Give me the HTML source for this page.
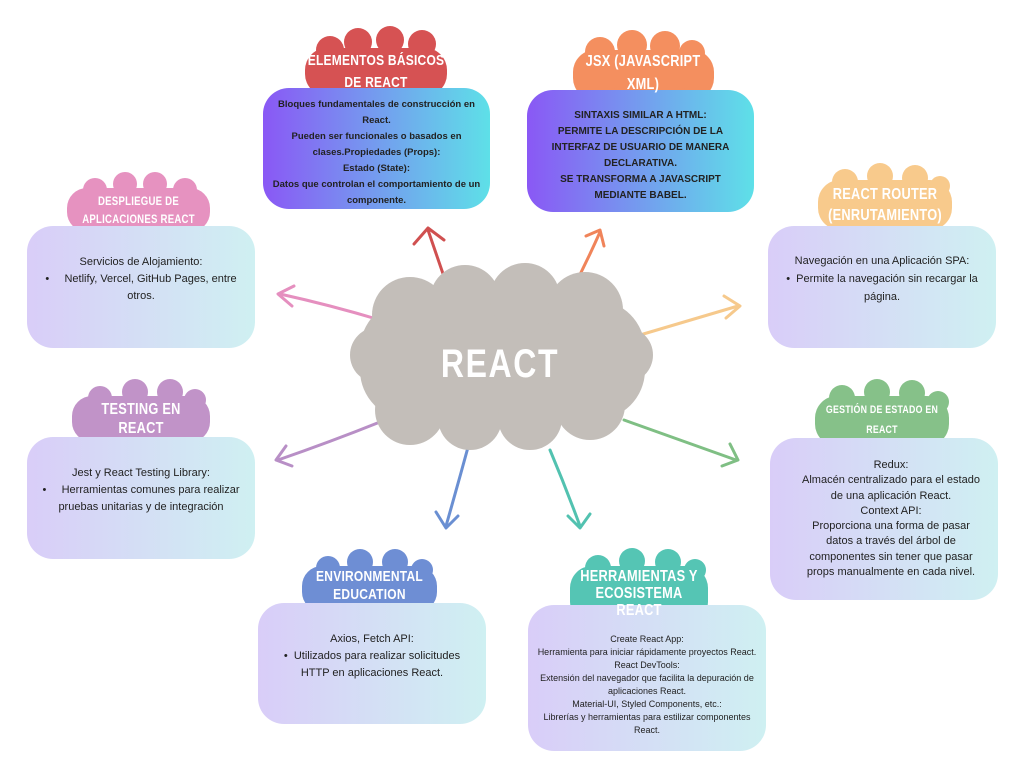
<!DOCTYPE html>
<html><head><meta charset="utf-8"><style>
body{margin:0;width:1024px;height:768px;background:#fff;position:relative;overflow:hidden;font-family:"Liberation Sans",sans-serif}
.box{position:absolute;border-radius:26px;color:#222;text-align:center;box-sizing:border-box}
.g1{background:linear-gradient(90deg,#8a58f5,#5ee0e8)}
.g2{background:linear-gradient(90deg,#d9cdf8,#cff0f2)}
.t{position:absolute;color:#fff;font-weight:bold;text-align:center;letter-spacing:0.3px;transform:scaleX(0.8);transform-origin:center}
svg{position:absolute;left:0;top:0}
</style></head><body>
<svg width="1024" height="768">
<g fill="none" stroke-width="3" stroke-linecap="round" stroke-linejoin="round">
<path d="M452 300 Q440 265 428 230 M414 244 L428 228 L444 240" stroke="#d05050"/>
<path d="M566 302 Q584 268 600 232 M586 236 L600 230 L604 246" stroke="#f0845a"/>
<path d="M380 320 Q330 305 280 294 M294 286 L278 294 L292 306" stroke="#e58fbf"/>
<path d="M640 335 Q690 320 738 306 M724 296 L740 306 L726 318" stroke="#f6c98c"/>
<path d="M380 422 Q330 442 278 460 M286 446 L276 460 L292 466" stroke="#b88fc6"/>
<path d="M624 420 Q680 440 736 460 M730 444 L738 460 L722 466" stroke="#7fbf84"/>
<path d="M470 440 Q458 484 446 526 M436 512 L446 528 L458 516" stroke="#6a8fd2"/>
<path d="M550 450 Q566 488 580 526 M568 516 L580 528 L590 514" stroke="#52c2b0"/>
</g>
<g fill="#c3beb9">
<rect x="360" y="300" width="285" height="120" rx="50"/>
<circle cx="410" cy="315" r="38"/><circle cx="465" cy="300" r="35"/><circle cx="525" cy="298" r="35"/><circle cx="585" cy="310" r="38"/>
<circle cx="378" cy="355" r="28"/><circle cx="625" cy="355" r="28"/>
<circle cx="410" cy="410" r="35"/><circle cx="470" cy="418" r="32"/><circle cx="530" cy="418" r="32"/><circle cx="590" cy="405" r="35"/>
</g>
<g fill="#d65253"><rect x="305" y="48" width="142" height="48" rx="22"/><circle cx="330" cy="50" r="14"/><circle cx="358" cy="42" r="14"/><circle cx="390" cy="40" r="14"/><circle cx="422" cy="44" r="14"/><circle cx="335" cy="94" r="12"/><circle cx="375" cy="98" r="12"/><circle cx="415" cy="94" r="12"/></g>
<g fill="#f48f5f"><rect x="573" y="50" width="141" height="50" rx="22"/><circle cx="600" cy="52" r="15"/><circle cx="632" cy="45" r="15"/><circle cx="665" cy="46" r="15"/><circle cx="692" cy="53" r="13"/><circle cx="610" cy="100" r="12"/><circle cx="645" cy="104" r="12"/><circle cx="680" cy="100" r="12"/></g>
<g fill="#e692c0"><rect x="67" y="188" width="143" height="44" rx="20"/><circle cx="95" cy="190" r="12"/><circle cx="125" cy="184" r="12"/><circle cx="155" cy="184" r="12"/><circle cx="185" cy="190" r="12"/></g>
<g fill="#f8ca8c"><rect x="818" y="180" width="134" height="50" rx="22"/><circle cx="845" cy="182" r="13"/><circle cx="880" cy="176" r="13"/><circle cx="915" cy="178" r="13"/><circle cx="940" cy="186" r="10"/></g>
<g fill="#c193c8"><rect x="72" y="396" width="138" height="46" rx="20"/><circle cx="100" cy="398" r="12"/><circle cx="135" cy="392" r="13"/><circle cx="170" cy="392" r="13"/><circle cx="195" cy="400" r="11"/></g>
<g fill="#86c189"><rect x="815" y="396" width="134" height="50" rx="22"/><circle cx="842" cy="398" r="13"/><circle cx="877" cy="392" r="13"/><circle cx="912" cy="393" r="13"/><circle cx="938" cy="402" r="11"/><circle cx="850" cy="450" r="11"/><circle cx="890" cy="454" r="11"/><circle cx="925" cy="448" r="10"/></g>
<g fill="#6e8ed4"><rect x="302" y="566" width="135" height="46" rx="20"/><circle cx="328" cy="568" r="12"/><circle cx="360" cy="562" r="13"/><circle cx="395" cy="562" r="13"/><circle cx="422" cy="570" r="11"/><circle cx="340" cy="612" r="10"/><circle cx="400" cy="612" r="10"/></g>
<g fill="#55c5b4"><rect x="570" y="566" width="138" height="58" rx="22"/><circle cx="598" cy="568" r="13"/><circle cx="632" cy="561" r="13"/><circle cx="668" cy="562" r="13"/><circle cx="695" cy="570" r="11"/><circle cx="610" cy="624" r="11"/><circle cx="640" cy="628" r="12"/><circle cx="672" cy="624" r="11"/></g>
</svg>
<div class="t" style="left:325px;top:342px;width:350px;font-size:40px;letter-spacing:2px">REACT</div>

<div class="box g1" style="left:263px;top:88px;width:227px;height:121px;font-size:9.5px;font-weight:bold;line-height:16px;padding-top:9px">Bloques fundamentales de construcción en React.<br>Pueden ser funcionales o basados en clases.Propiedades (Props):<br>Estado (State):<br>Datos que controlan el comportamiento de un componente.</div>
<div class="t" style="left:287px;top:50px;width:178px;font-size:15px;line-height:22px">ELEMENTOS BÁSICOS DE REACT</div>

<div class="box g1" style="left:527px;top:90px;width:227px;height:122px;font-size:10px;font-weight:bold;line-height:16px;padding:18px 20px 0">SINTAXIS SIMILAR A HTML:<br>PERMITE LA DESCRIPCIÓN DE LA INTERFAZ DE USUARIO DE MANERA DECLARATIVA.<br>SE TRANSFORMA A JAVASCRIPT MEDIANTE BABEL.</div>
<div class="t" style="left:555px;top:50px;width:176px;font-size:16px;line-height:23px">JSX (JAVASCRIPT XML)</div>

<div class="box g2" style="left:27px;top:226px;width:228px;height:122px;font-size:11px;line-height:17px;padding:28px 16px 0">Servicios de Alojamiento:<br>•&nbsp;&nbsp;&nbsp;&nbsp;&nbsp;Netlify, Vercel, GitHub Pages, entre otros.</div>
<div class="t" style="left:49px;top:192px;width:179px;font-size:12px;line-height:18px">DESPLIEGUE DE APLICACIONES REACT</div>

<div class="box g2" style="left:768px;top:226px;width:228px;height:122px;font-size:11px;line-height:18px;padding:26px 10px 0">Navegación en una Aplicación SPA:<br>•&nbsp; Permite la navegación sin recargar la página.</div>
<div class="t" style="left:801px;top:184px;width:168px;font-size:16px;line-height:21px">REACT ROUTER (ENRUTAMIENTO)</div>

<div class="box g2" style="left:27px;top:437px;width:228px;height:122px;font-size:11px;line-height:17px;padding:28px 14px 0">Jest y React Testing Library:<br>•&nbsp;&nbsp;&nbsp;&nbsp;&nbsp;Herramientas comunes para realizar pruebas unitarias y de integración</div>
<div class="t" style="left:55px;top:400px;width:172px;font-size:16px;line-height:19px">TESTING EN<br>REACT</div>

<div class="box g2" style="left:770px;top:438px;width:228px;height:162px;font-size:11px;line-height:15.3px;padding:20px 16px 0 30px;text-align:center">Redux:<br>Almacén centralizado para el estado de una aplicación React.<br>Context API:<br>Proporciona una forma de pasar datos a través del árbol de componentes sin tener que pasar props manualmente en cada nivel.</div>
<div class="t" style="left:798px;top:400px;width:168px;font-size:11px;line-height:20px">GESTIÓN DE ESTADO EN REACT</div>

<div class="box g2" style="left:258px;top:603px;width:228px;height:121px;font-size:11px;line-height:17px;padding:28px 14px 0">Axios, Fetch API:<br>•&nbsp; Utilizados para realizar solicitudes HTTP en aplicaciones React.</div>
<div class="t" style="left:285px;top:568px;width:169px;font-size:15px;line-height:18px">ENVIRONMENTAL EDUCATION</div>

<div class="box g2" style="left:528px;top:605px;width:238px;height:146px;font-size:9px;line-height:13px;padding:28px 8px 0">Create React App:<br>Herramienta para iniciar rápidamente proyectos React.<br>React DevTools:<br>Extensión del navegador que facilita la depuración de aplicaciones React.<br>Material-UI, Styled Components, etc.:<br>Librerías y herramientas para estilizar componentes React.</div>
<div class="t" style="left:553px;top:568px;width:172px;font-size:16px;line-height:17px">HERRAMIENTAS Y<br>ECOSISTEMA<br>REACT</div>
</body></html>
